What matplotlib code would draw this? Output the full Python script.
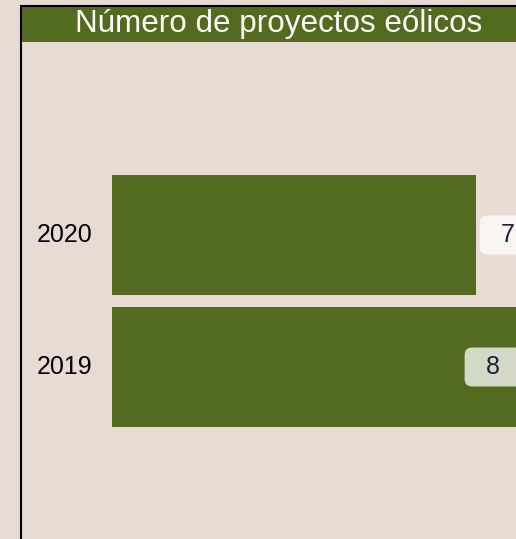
import matplotlib.pyplot as plt
from matplotlib.patches import Rectangle

# datos
years = ['2019', '2020']
projects = [8, 7]

bg = '#e7dbd3'
green = '#536b1e'
W, H = 516, 539

plt.rcParams['font.family'] = ['Liberation Sans', 'DejaVu Sans']

fig = plt.figure(figsize=(W / 100, H / 100), dpi=100, facecolor=bg)
ax = fig.add_axes([0, 0, 1, 1], facecolor=bg)

# escala: 0 en x=112 px, 52 px por proyecto; filas a 132 px
x0, sx = 112, 52
ax.set_xlim(-x0 / sx, (W - x0) / sx)
ax.set_ylim(-(H - 367) / 132, 1 + 235 / 132)
ax.axis('off')

pos = list(range(len(years)))
ax.barh(pos, projects, height=120 / 132, color=green, zorder=2)

xmax = ax.get_xlim()[1]
for p, y, v in zip(pos, years, projects):
    ax.text(-75 / sx, p, y, ha='left', va='center', fontsize=18, color='black')
    lx = v + 0.615
    if lx > xmax:
        lx = xmax - 0.44  # etiqueta dentro de la barra si se sale
    ax.text(lx, p, '  ' + str(v) + '  ', ha='center', va='center', fontsize=18,
            color='#1b2338', zorder=4,
            bbox=dict(boxstyle='round,pad=0.3,rounding_size=0.3', fc='white',
                      alpha=0.75, ec='none'))

# marco y barra de título
fig.patches.append(Rectangle((21 / W, -0.1), 1.2, 1 - 6 / H + 0.1,
                             transform=fig.transFigure, fill=False,
                             ec='black', lw=1.5, zorder=5))
fig.patches.append(Rectangle((22 / W, 1 - 42 / H), 1.1, 35 / H,
                             transform=fig.transFigure, fc=green, ec='none', zorder=4))
fig.text(279 / W, 1 - 24 / H, 'Número de proyectos eólicos', ha='center', va='center',
         fontsize=22.6, color='white', zorder=6)

fig.savefig('out.png', dpi=100, facecolor=bg)
